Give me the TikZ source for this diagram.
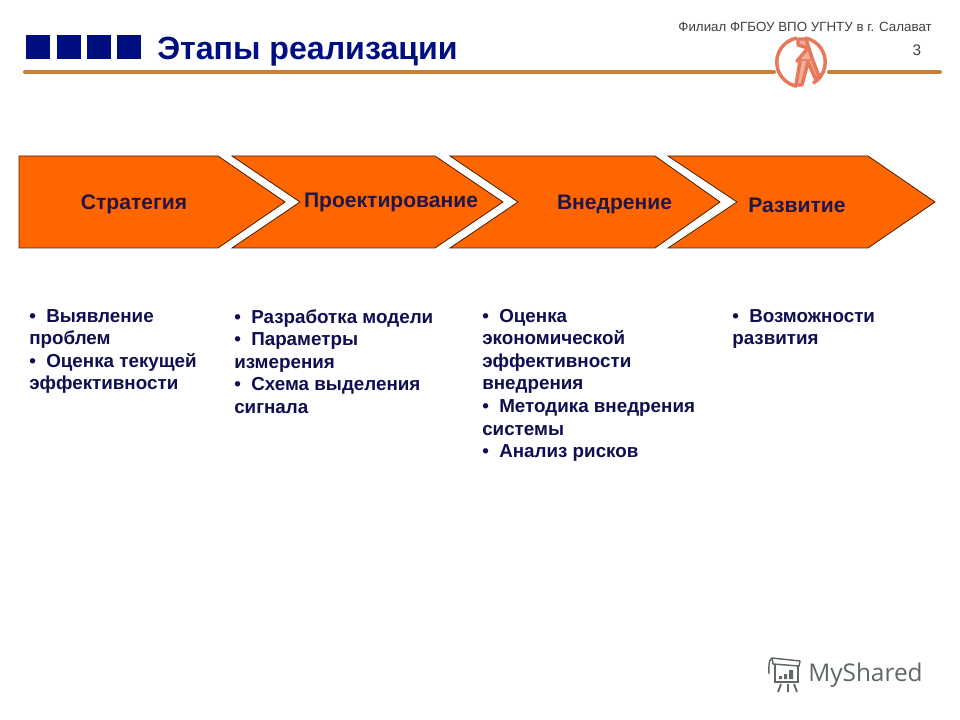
\documentclass[tikz,border=0pt]{standalone}
\usepackage{fontspec}
\setmainfont{Liberation Sans}
\newfontfamily\markfont{Open Sans}
\usetikzlibrary{positioning}
\definecolor{cnavy}{HTML}{000F80}
\definecolor{corange}{HTML}{FF6600}
\definecolor{crule}{HTML}{C97F3A}
\definecolor{clogo}{HTML}{E8785A}
\definecolor{ctext}{HTML}{0E0E50}
\definecolor{cmark}{HTML}{5F6866}
\tikzset{
  every picture/.style={x=0.75pt, y=-0.75pt},
  square/.style={fill=cnavy, draw=none},
  rulebar/.style={draw=crule, line width=3pt, line cap=round},
  logoline/.style={draw=clogo, line width=2.6pt, line join=round},
  stage/.style={fill=corange, draw=black!70!corange, line width=0.6pt},
  stagelabel/.style={font=\fontsize{15.8}{18}\selectfont\bfseries, text=ctext!92!corange, inner sep=0pt},
  bullets/.style={font=\fontsize{14.1}{16.9}\selectfont\bfseries, text=ctext, align=left, anchor=north west, inner sep=0pt},
  title/.style={font=\fontsize{24.1}{27}\selectfont\bfseries, text=cnavy, inner sep=0pt},
  note/.style={font=\fontsize{10}{12}\selectfont, text=black!75, inner sep=0pt},
}
\begin{document}
\begin{tikzpicture}
  \useasboundingbox (0,0) rectangle (960,720);
  % header
  \foreach \x in {26,57,87,117}
    \fill[square] (\x,35) rectangle ++(24,24);
  \node[title, anchor=west] (head) at (157,52) {Этапы реализации};
  \node[note, anchor=east] (branch) at (932,27) {Филиал ФГБОУ ВПО УГНТУ  в г. Салават};
  \node[note, font=\fontsize{11.5}{13}\selectfont, anchor=center] (page) at (917,50) {3};
  \draw[rulebar] (25,72) -- (774,72);
  \draw[rulebar] (829,72) -- (940,72);
  % logo
  \draw[logoline] (797,38) arc[start angle=260, end angle=100, radius=24.5];
  \draw[logoline] (805,38) arc[start angle=280, end angle=420, radius=24.5];
  \draw[logoline, fill=clogo!60] (798,39) -- (806,39) -- (813,61) -- (797,61) -- (808,48) -- (798,45) -- cycle;
  \draw[logoline, fill=clogo!60] (800,61) -- (796,85) -- (802,85) -- (808,62) -- (816,80) -- (819,76) -- (813,61);
  % chevrons
  \draw[stage] (19,156) -- (218,156) -- (285,202) -- (218,248) -- (19,248) -- cycle;
  \draw[stage] (232,156) -- (435,156) -- (503,202) -- (435,248) -- (232,248) -- (300,202) -- cycle;
  \draw[stage] (450,156) -- (655,156) -- (720,202) -- (655,248) -- (450,248) -- (518,202) -- cycle;
  \draw[stage] (668,156) -- (868,156) -- (935,202) -- (868,248) -- (668,248) -- (737,202) -- cycle;
  \node[stagelabel] (s1) at (134,204) {Стратегия};
  \node[stagelabel] (s2) at (391,202) {Проектирование};
  \node[stagelabel] (s3) at (614.5,204) {Внедрение};
  \node[stagelabel] (s4) at (797,205) {Развитие};
  % lists under the stages
  \node[bullets] (l1) at (29,309) {• \ Выявление\\проблем\\• \ Оценка текущей\\эффективности};
  \node[bullets] (l2) at (234,309) {• \ Разработка модели\\• \ Параметры\\измерения\\• \ Схема выделения\\сигнала};
  \node[bullets] (l3) at (482,309) {• \ Оценка\\экономической\\эффективности\\внедрения\\• \ Методика внедрения\\системы\\• \ Анализ рисков};
  \node[bullets] (l4) at (732,309) {• \ Возможности\\развития};
  % watermark
  \node[font=\markfont\fontsize{18.3}{22}\selectfont, text=cmark, anchor=west, inner sep=0pt] (mark) at (808,675) {MyShared};
  \draw[cmark, line width=1.1pt, line join=round] (772,658) -- (800,661) -- (799,666) -- (773,664) -- cycle;
  \draw[cmark, line width=1.1pt] (775,664) -- (775,682) -- (798,682) -- (798,665);
  \draw[cmark, line width=1.1pt] (772,658) .. controls (768,660) and (769,668) .. (769,674);
  \draw[cmark, line width=1.4pt] (778,692) -- (781,684) (788,692) -- (788,684) (797,692) -- (794,684);
  \fill[cmark] (779,676) rectangle ++(3,3) (784,674) rectangle ++(3,5) (789,670) rectangle ++(4,9);
\end{tikzpicture}
\end{document}
